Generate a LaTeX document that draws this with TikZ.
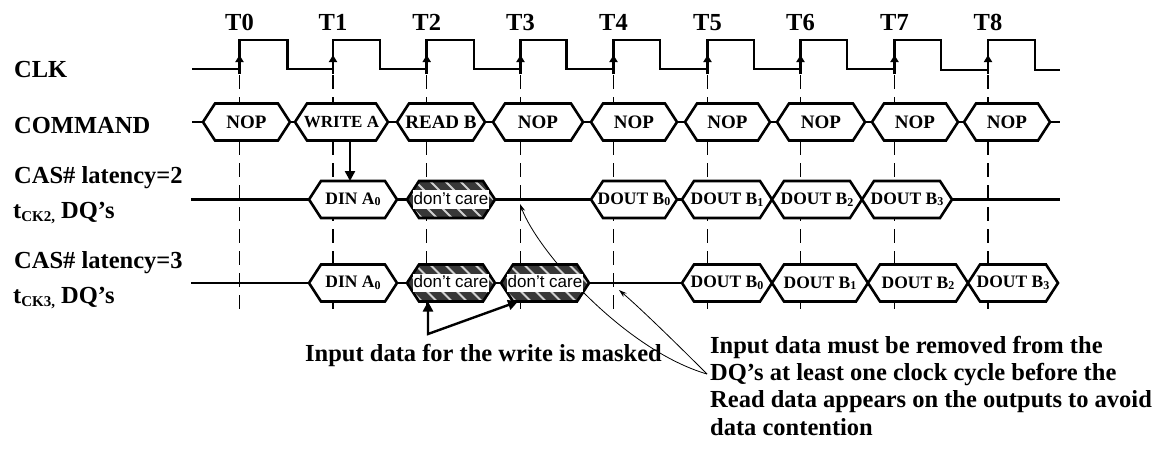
\documentclass[tikz,border=0pt]{standalone}
\usepackage{fontspec}
\setmainfont{Liberation Serif}
\newfontfamily\dcfont{Liberation Sans}
\usetikzlibrary{arrows.meta}
\newcommand\fs[1]{\fontsize{#1}{#1}\selectfont}
\newcommand\hsub[1]{\raisebox{-1.5pt}{\fs{12}#1}}
\newcommand\hexpath[1]{(#1.west) -- ([xshift=12pt]#1.north west) -- ([xshift=-12pt]#1.north east) -- (#1.east) -- ([xshift=-12pt]#1.south east) -- ([xshift=12pt]#1.south west) -- cycle}
\newcommand\hexnode[6][]{%
  \path node[hexn, minimum width={#4pt-#3pt}] (#2) at ({(#3+#4)/2},#5) {};
  \draw[hexline] \hexpath{#2};
  \node[hexlab,#1] (#2-t) at (#2.center) {#6};
}
\newcommand\dcnode[4]{%
  \path node[hexn, minimum width={#3pt-#2pt}] (#1) at ({(#2+#3)/2},#4) {};
  \begin{scope}
    \clip \hexpath{#1};
    \fill[black!78] ([xshift=-3pt,yshift=3pt]#1.north west) rectangle ([xshift=3pt,yshift=-3pt]#1.south east);
    \foreach \k in {0,...,9} \draw[stripe] ([xshift=\k*15pt-40pt, yshift=3pt]#1.north west) -- ++(44,44);
  \end{scope}
  \draw[hexline, fill=none] \hexpath{#1};
  \node[dclab] (#1-t) at (#1.center) {don’t care};
}
\begin{document}
\begin{tikzpicture}[x=1pt,y=-1pt,
  sig/.style={line width=2.6pt, line join=miter},
  hexn/.style={rectangle, minimum height=37pt, inner sep=0pt, outer sep=0pt},
  hexline/.style={line width=2.6pt, line join=miter, draw=black, fill=white},
  hexlab/.style={inner sep=0pt, font=\bfseries\fs{17.5}},
  cmdlab/.style={font=\bfseries\fs{19}},
  stripe/.style={draw=white!82!black, line width=2pt},
  dclab/.style={fill=white, inner xsep=1pt, inner ysep=1.5pt, text height=12.5pt, text depth=3pt, font=\dcfont\fs{17}},
  lab/.style={inner sep=0pt, anchor=base west, font=\bfseries\fs{24.5}},
  tlab/.style={inner sep=0pt, anchor=base, font=\bfseries\fs{24.5}},
  dashv/.style={line width=1.4pt, dash pattern=on 14pt off 8pt},
  edgearr/.style={line width=2.6pt, -{Triangle[length=7pt,width=8pt]}},
  bigarr/.style={line width=2.4pt},
  thinarr/.style={line width=0.8pt, -{Stealth[length=8pt,width=5pt]}}
]
\useasboundingbox (0,0) rectangle (1169,453);

% clock edges
\foreach \x [count=\i from 0] in {239.5,333,426.7,520.5,613.5,707.5,800.5,894.5,988}{
  \coordinate (e\i) at (\x,69);
  \draw[dashv] (\x,75) -- (\x,312);
  \node[tlab] (T\i) at (\x,30) {T\i};
}

% clock waveform
\draw[sig] (192,69) -- (239.5,69) -- (239.5,40) -- (287.3,40) -- (287.3,69)
  -- (333,69) -- (333,40) -- (380,40) -- (380,69)
  -- (426.7,69) -- (426.7,40) -- (474,40) -- (474,69)
  -- (520.5,69) -- (520.5,40) -- (566.7,40) -- (566.7,69)
  -- (613.5,69) -- (613.5,40) -- (660,40) -- (660,69)
  -- (707.5,69) -- (707.5,40) -- (754,40) -- (754,69)
  -- (800.5,69) -- (800.5,40) -- (847,40) -- (847,69)
  -- (894.5,69) -- (894.5,40) -- (941,40) -- (941,70)
  -- (988,70) -- (988,40) -- (1035,40) -- (1035,70) -- (1060,70);
\foreach \i in {0,...,8}{
  \draw[edgearr] ([yshift=-5pt]e\i) -- ([yshift=14pt]e\i);
}

% signal lines
\draw[sig] (192,122) -- (1060,122);
\draw[sig] (191,199.5) -- (1060,199.5);
\draw[sig] (191,283) -- (1058,283);

% thin annotation curves (behind boxes)
\node[lab] (r1) at (710,353) {Input data must be removed from the};
\node[lab] (r2) at (710,380) {DQ’s at least one clock cycle before the};
\node[lab] (r3) at (710,407) {Read data appears on the outputs to avoid};
\node[lab] (r4) at (710,435) {data contention};
\coordinate (tip2) at (520,204);
\coordinate (tip3) at (619,290);
\draw[thinarr] ([xshift=-3pt]r2.west) .. controls (625,350) and (538,252) .. (tip2);
\draw[thinarr] ([xshift=-3pt]r2.west) .. controls (675,342) and (640,308) .. (tip3);

% command row
\hexnode[cmdlab]{c0}{203}{290}{122}{NOP}
\hexnode[font=\bfseries\fs{17}]{c1}{295}{388}{122}{WRITE A}
\hexnode[cmdlab]{c2}{397}{485}{122}{READ B}
\hexnode[cmdlab]{c3}{493}{583}{122}{NOP}
\hexnode[cmdlab]{c4}{591}{677}{122}{NOP}
\hexnode[cmdlab]{c5}{685}{770}{122}{NOP}
\hexnode[cmdlab]{c6}{777}{865}{122}{NOP}
\hexnode[cmdlab]{c7}{872}{958}{122}{NOP}
\hexnode[cmdlab]{c8}{964}{1050}{122}{NOP}

% CAS latency 2 row
\hexnode{dA2}{309}{397}{199.5}{DIN A\hsub{0}}
\dcnode{dc2}{407}{495}{199.5}
\hexnode{o20}{591}{677}{199.5}{DOUT B\hsub{0}}
\hexnode{o21}{682}{772}{199.5}{DOUT B\hsub{1}}
\hexnode{o22}{772}{862}{199.5}{DOUT B\hsub{2}}
\hexnode{o23}{862}{952}{199.5}{DOUT B\hsub{3}}

% CAS latency 3 row
\hexnode{dA3}{309}{397}{283}{DIN A\hsub{0}}
\dcnode{dc3a}{407}{495}{283}
\dcnode{dc3b}{501}{589}{283}
\hexnode{o30}{682}{772}{283}{DOUT B\hsub{0}}
\hexnode{o31}{772}{868}{283}{DOUT B\hsub{1}}
\hexnode{o32}{868}{968}{283}{DOUT B\hsub{2}}
\hexnode{o33}{968}{1058}{283}{DOUT B\hsub{3}}

% row labels
\node[lab] (lclk) at (14,77) {CLK};
\node[lab] (lcmd) at (14,133) {COMMAND};
\node[lab] (lcas2) at (14,183) {CAS\# latency=2};
\node[lab] (ltck2) at (13,218) {t\raisebox{-3.5pt}{\fs{15}CK2,} DQ’s};
\node[lab] (lcas3) at (14,268) {CAS\# latency=3};
\node[lab] (ltck3) at (13,303) {t\raisebox{-3.5pt}{\fs{15}CK3,} DQ’s};

% arrows
\draw[bigarr, -{Triangle[length=10pt,width=10pt]}] ([xshift=8.5pt]c1.south) -- ([xshift=-3pt]dA2.north);
\coordinate (mk) at (428,334);
\draw[bigarr, {Triangle[length=10pt,width=10pt]}-{Triangle[length=10pt,width=10pt]}]
  ([xshift=-23pt]dc3a.south) -- (mk) -- ([xshift=17pt]dc3b.south west);
\node[lab] (mask) at (305,361) {Input data for the write is masked};
\end{tikzpicture}
\end{document}
